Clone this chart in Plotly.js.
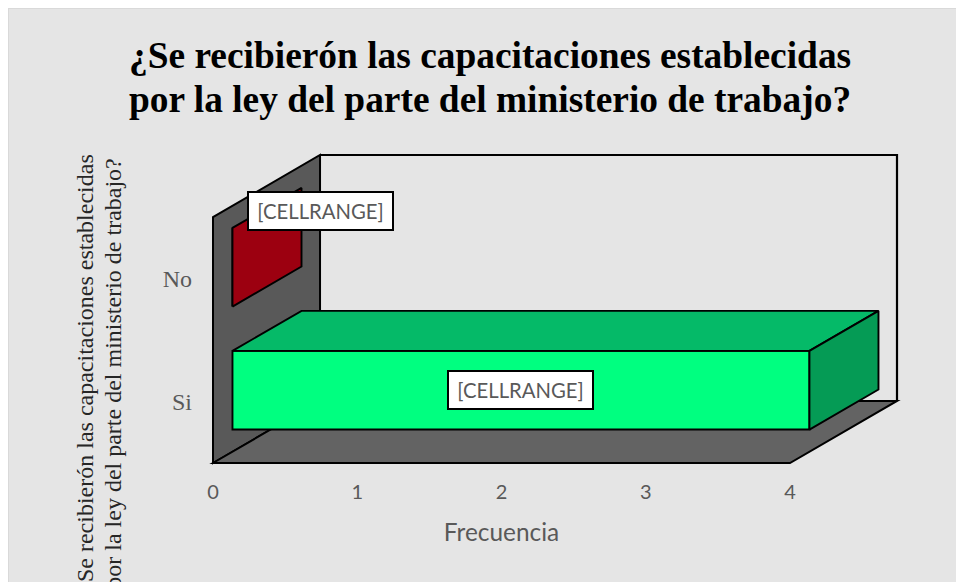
<!DOCTYPE html>
<html>
<head>
<meta charset="utf-8">
<script src="https://cdn.plot.ly/plotly-3.0.1.min.js"></script>
<style>
html,body{margin:0;padding:0;background:#fff;width:956px;height:582px;overflow:hidden;}
#note{position:absolute;left:3px;top:-15px;font:16px "Liberation Serif",serif;color:#000;white-space:pre;}
#chart{position:absolute;left:8px;top:8px;width:947px;height:573px;border-left:1px solid #d9d9d9;border-top:1px solid #d9d9d9;background:#e5e5e5;overflow:hidden;}
</style>
</head>
<body>
<div id="note">N° 20</div>
<div id="chart"></div>
<script>
// Data
const categories = ['Si', 'No'];
const frecuencia = [4, 0];
const barLabels = ['[CELLRANGE]', '[CELLRANGE]'];
const xTicks = [0, 1, 2, 3, 4];
const chartTitle = '¿Se recibierón las capacitaciones establecidas<br>por la ley del parte del ministerio de trabajo?';
const yTitle = '¿Se recibierón las capacitaciones establecidas<br>por la ley del parte del ministerio de trabajo?';
const xTitle = 'Frecuencia';

// Styling
const frontColors = ['#00ff80', '#9c0010'];
const topColors = ['#05ba68', '#7d000c'];
const sideColors = ['#059b55', '#9c0010'];
const wallColor = '#595959';
const floorColor = '#636363';
const textGray = '#595959';

// 3D oblique projection, in axis units
const DX = 0.742, DY = 0.505;      // full depth of the plot box
const Z0 = 0.182, Z1 = 0.827;      // depth range occupied by bars
const BAR = 0.64;                  // bar thickness in category units
const PADX = 0.02773, PADY = 0.03256; // room so the frame's strokes are not clipped
const yIdx = categories.map((_, i) => i);
const xMax = xTicks[xTicks.length - 1];
const yLo = -0.5, yHi = categories.length - 0.5;
const spanX = xMax + DX + 2 * PADX, spanY = yHi - yLo + DY + 2 * PADY;

const P = (v, y, z) => [v + z * DX, y + z * DY];
const pathOf = pts => 'M' + pts.map(p => p[0] + ',' + p[1]).join('L');
function wall(pts, color, closed, width) {
  return {
    type: 'path', xref: 'x2', yref: 'y2', layer: 'below',
    path: pathOf(pts) + (closed ? 'Z' : ''),
    fillcolor: color || 'rgba(0,0,0,0)',
    line: {color: '#000', width: width}
  };
}
function face(points, color) {
  const pts = points.concat([points[0]]);
  return {
    type: 'scatter', mode: 'lines', x: pts.map(p => p[0]), y: pts.map(p => p[1]),
    fill: 'toself', fillcolor: color, line: {color: '#000', width: 1.9},
    hoverinfo: 'skip', showlegend: false, xaxis: 'x2', yaxis: 'y2'
  };
}

const shapes = [
  wall([P(0, yLo, 0), P(0, yHi, 0), P(0, yHi, 1), P(0, yLo, 1)], wallColor, true, 2),
  wall([P(0, yLo, 0), P(0, yLo, 1), P(xMax, yLo, 1), P(xMax, yLo, 0)], floorColor, true, 2),
  wall([P(0, yHi, 1), P(xMax, yHi, 1), P(xMax, yLo, 1)], null, false, 2.2)
];

const traces = [];
// Invisible carrier so the tick-bearing axes exist as a subplot
traces.push({type: 'scatter', mode: 'markers', x: [0], y: [0], marker: {opacity: 0, size: 1},
  hoverinfo: 'skip', showlegend: false, xaxis: 'x', yaxis: 'y'});
// Front faces
traces.push({
  type: 'bar', orientation: 'h', x: frecuencia, y: yIdx,
  base: Z0 * DX, width: BAR, offset: -BAR / 2 + Z0 * DY,
  marker: {color: frontColors, line: {color: '#000', width: 1.9}},
  showlegend: false, hoverinfo: 'x+y', xaxis: 'x2', yaxis: 'y2'
});
// Top and end faces of the bars
yIdx.forEach((y, i) => {
  const v = frecuencia[i], lo = y - BAR / 2, hi = y + BAR / 2;
  if (v > 0) {
    traces.push(face([P(0, hi, Z0), P(v, hi, Z0), P(v, hi, Z1), P(0, hi, Z1)], topColors[i]));
  }
  traces.push(face([P(v, lo, Z0), P(v, hi, Z0), P(v, hi, Z1), P(v, lo, Z1)], sideColors[i]));
});

const labelPos = [P(frecuencia[0] / 2, 0, Z0), [DX, 1.549]];
const annotations = barLabels.map((t, i) => ({
  text: t, x: labelPos[i][0], y: labelPos[i][1], xref: 'x2', yref: 'y2',
  showarrow: false, bgcolor: '#fff', bordercolor: '#000', borderwidth: 2,
  width: 141, height: 34, align: 'center', valign: 'middle',
  font: {family: 'Lato, sans-serif', size: 20.3, color: textGray}
}));
annotations.push({
  text: yTitle, xref: 'paper', yref: 'paper', x: -0.1568, y: 0.2968,
  xanchor: 'center', yanchor: 'middle', textangle: -90,
  showarrow: false, align: 'center',
  font: {family: '"Liberation Serif", serif', size: 24, color: '#262626'}
});

const layout = {
  width: 947, height: 573, autosize: false,
  paper_bgcolor: '#e5e5e5', plot_bgcolor: 'rgba(0,0,0,0)',
  margin: {l: 200, t: 142, r: 55, b: 115.3, pad: 0},
  showlegend: false, barmode: 'overlay', shapes: shapes,
  title: {
    text: chartTitle, xref: 'container', x: 0.508, xanchor: 'center',
    yref: 'container', y: 0.897, yanchor: 'top',
    font: {family: '"Liberation Serif", serif', size: 37.4, color: '#000', weight: 700}
  },
  xaxis: {
    domain: [PADX / spanX, (PADX + xMax) / spanX], anchor: 'y',
    range: [0, xMax], tickvals: xTicks, showgrid: false, zeroline: false, showline: false,
    ticks: '', ticklabelstandoff: 15,
    tickfont: {family: 'Lato, sans-serif', size: 20, color: textGray},
    title: {text: xTitle, standoff: 21, font: {family: 'Lato, sans-serif', size: 24.4, color: textGray}}
  },
  yaxis: {
    domain: [PADY / spanY, (PADY + yHi - yLo) / spanY], anchor: 'x',
    range: [yLo, yHi], tickvals: yIdx, ticktext: categories, showgrid: false, zeroline: false, showline: false,
    ticks: '', ticklabelstandoff: 20,
    tickfont: {family: '"Liberation Serif", serif', size: 24, color: textGray}
  },
  xaxis2: {domain: [0, 1], anchor: 'y2', visible: false, range: [-PADX, xMax + DX + PADX]},
  yaxis2: {domain: [0, 1], anchor: 'x2', visible: false, range: [yLo - PADY, yHi + DY + PADY]},
  annotations: annotations
};

function tightenLines() {
  // The reference's multi-line titles are set tighter than Plotly's fixed 1.3em leading
  const fix = (sel, px) => document.querySelectorAll(sel).forEach(el => {
    const ls = el.querySelectorAll('tspan.line');
    if (ls.length > 1) ls[1].setAttribute('dy', px + 'px');
  });
  fix('.gtitle', 43.5);
  fix('.annotation-text', 27.5);
}
Plotly.newPlot('chart', traces, layout, {displayModeBar: false, staticPlot: true}).then(tightenLines);
</script>
</body>
</html>
